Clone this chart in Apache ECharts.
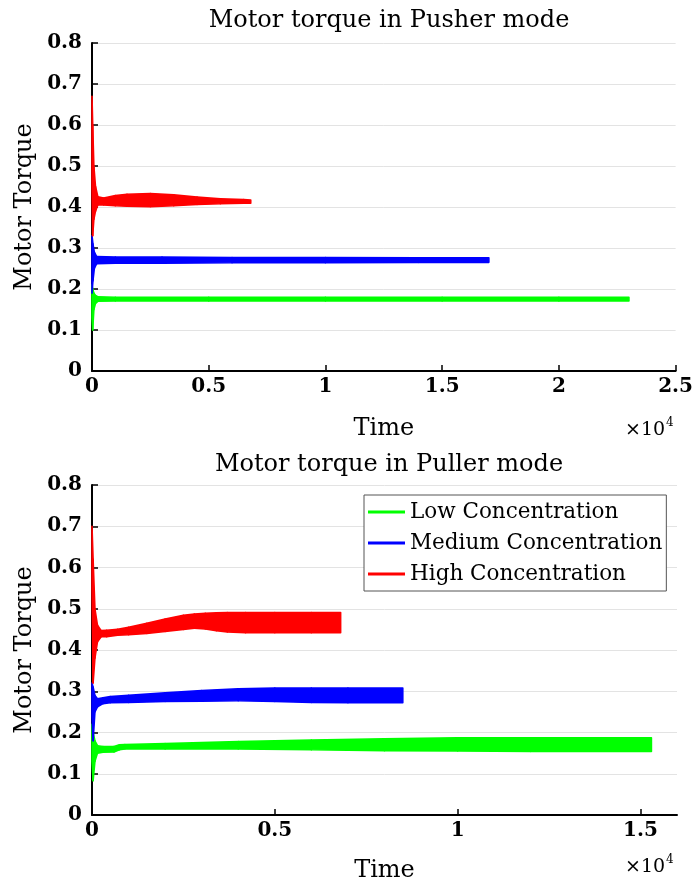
<!DOCTYPE html>
<html lang="en">
<head>
    <meta charset="UTF-8">
    <title>Motor torque</title>
    <script src="https://cdn.jsdelivr.net/npm/echarts@6/dist/echarts.min.js"></script>
    <style>
        html, body { margin: 0; padding: 0; background: #fff; }
        #chart { width: 696px; height: 884px; }
    </style>
</head>
<body>
<div id="chart"></div>
<script type="text/javascript">
    // ---- data (envelope of the oscillating torque: lower / upper) ----
    var seriesNames = ['Low Concentration', 'Medium Concentration', 'High Concentration'];
    var seriesColors = ['#00ff00', '#0000ff', '#ff0000'];

    // Pusher mode
    var pushLowT  = [0, 30, 80, 150, 250, 1000, 5000, 10000, 15000, 20000, 23000];
    var pushLowLo = [0.13, 0.10, 0.15, 0.165, 0.170, 0.171, 0.171, 0.171, 0.171, 0.171, 0.171];
    var pushLowHi = [0.21, 0.20, 0.19, 0.184, 0.181, 0.180, 0.180, 0.180, 0.180, 0.180, 0.180];

    var pushMedT  = [0, 40, 100, 200, 1000, 3000, 6000, 10000, 14000, 17000];
    var pushMedLo = [0.19, 0.22, 0.25, 0.262, 0.263, 0.263, 0.264, 0.264, 0.265, 0.265];
    var pushMedHi = [0.33, 0.31, 0.29, 0.279, 0.278, 0.278, 0.277, 0.277, 0.276, 0.276];

    var pushHighT  = [0, 30, 80, 150, 250, 500, 1000, 1500, 2500, 3500, 4500, 5500, 6500, 6800];
    var pushHighLo = [0.45, 0.33, 0.37, 0.39, 0.405, 0.405, 0.403, 0.402, 0.401, 0.403, 0.406, 0.408, 0.409, 0.409];
    var pushHighHi = [0.67, 0.60, 0.50, 0.45, 0.425, 0.422, 0.428, 0.431, 0.433, 0.430, 0.424, 0.420, 0.418, 0.417];

    // Puller mode
    var pullLowT  = [0, 30, 80, 150, 300, 600, 750, 900, 2000, 4000, 6000, 8000, 10000, 12000, 15300];
    var pullLowLo = [0.13, 0.083, 0.13, 0.150, 0.152, 0.153, 0.158, 0.160, 0.160, 0.160, 0.158, 0.156, 0.155, 0.154, 0.154];
    var pullLowHi = [0.22, 0.20, 0.18, 0.168, 0.166, 0.166, 0.170, 0.171, 0.173, 0.178, 0.182, 0.185, 0.187, 0.187, 0.187];

    var pullMedT  = [0, 30, 80, 150, 300, 500, 1000, 2000, 3000, 4000, 5000, 6000, 7000, 8500];
    var pullMedLo = [0.24, 0.18, 0.25, 0.262, 0.270, 0.272, 0.273, 0.275, 0.276, 0.277, 0.275, 0.273, 0.272, 0.272];
    var pullMedHi = [0.32, 0.31, 0.29, 0.282, 0.284, 0.287, 0.290, 0.296, 0.302, 0.306, 0.308, 0.308, 0.308, 0.308];

    var pullHighT  = [0, 30, 80, 150, 250, 400, 700, 1000, 1500, 2000, 2500, 2800, 3100, 3400, 3700, 4200, 5000, 6000, 6800];
    var pullHighLo = [0.55, 0.32, 0.38, 0.42, 0.432, 0.432, 0.436, 0.437, 0.440, 0.445, 0.450, 0.453, 0.451, 0.447, 0.444, 0.442, 0.442, 0.442, 0.442];
    var pullHighHi = [0.70, 0.62, 0.50, 0.46, 0.447, 0.448, 0.450, 0.455, 0.465, 0.475, 0.484, 0.487, 0.489, 0.490, 0.491, 0.491, 0.491, 0.491, 0.491];

    // build trapezoid segments between consecutive envelope points
    function bandSegments(t, lo, hi) {
        var seg = [];
        for (var i = 0; i < t.length - 1; i++) {
            seg.push([t[i], lo[i], hi[i], t[i + 1], lo[i + 1], hi[i + 1]]);
        }
        return seg;
    }

    function bandSeries(name, color, gridIdx, t, lo, hi) {
        return {
            name: name,
            type: 'custom',
            xAxisIndex: gridIdx,
            yAxisIndex: gridIdx,
            itemStyle: { color: color },
            encode: { x: [0, 3], y: [1, 2, 4, 5] },
            data: bandSegments(t, lo, hi),
            renderItem: function (params, api) {
                var p = [
                    api.coord([api.value(0), api.value(1)]),
                    api.coord([api.value(3), api.value(4)]),
                    api.coord([api.value(3), api.value(5)]),
                    api.coord([api.value(0), api.value(2)])
                ];
                return {
                    type: 'polygon',
                    shape: { points: p },
                    style: { fill: color, stroke: color, lineWidth: 1.6, lineJoin: 'round' }
                };
            },
            silent: true
        };
    }

    var serif = 'DejaVu Serif';

    function xAxisFor(gridIdx, maxVal, tickVals, gap) {
        return {
            type: 'value',
            gridIndex: gridIdx,
            min: 0,
            max: maxVal,
            interval: 5000,
            name: 'Time',
            nameLocation: 'middle',
            nameGap: gap,
            nameTextStyle: { fontFamily: serif, fontSize: 24, color: '#000' },
            axisLine: { lineStyle: { color: '#000', width: 2 } },
            axisTick: { inside: true, length: 6, customValues: tickVals, lineStyle: { color: '#000', width: 1.5 } },
            axisLabel: {
                customValues: tickVals,
                margin: 6,
                fontFamily: serif, fontWeight: 'bold', fontSize: 20, color: '#000',
                formatter: function (v) { return String(v / 10000); }
            },
            splitLine: { show: false }
        };
    }

    function yAxisFor(gridIdx) {
        return {
            type: 'value',
            gridIndex: gridIdx,
            min: 0,
            max: 0.8,
            interval: 0.1,
            name: 'Motor Torque',
            nameLocation: 'middle',
            nameGap: 48,
            nameTextStyle: { fontFamily: serif, fontSize: 24, color: '#000' },
            axisLine: { lineStyle: { color: '#000', width: 2 } },
            axisTick: { inside: true, length: 6, lineStyle: { color: '#000', width: 1.5 } },
            axisLabel: {
                margin: 10,
                fontFamily: serif, fontWeight: 'bold', fontSize: 20, color: '#000',
                formatter: function (v) { return String(Math.round(v * 10) / 10); }
            },
            splitLine: { show: true, lineStyle: { color: '#e3e3e3', width: 1 } }
        };
    }

    var chart = echarts.init(document.getElementById('chart'), null, { renderer: 'canvas' });
    var option = {
        backgroundColor: '#fff',
        animation: false,
        title: [
            { text: 'Motor torque in Pusher mode', left: 384, top: 4, textAlign: 'center',
              textStyle: { fontFamily: serif, fontSize: 24, fontWeight: 'normal', color: '#000' } },
            { text: 'Motor torque in Puller mode', left: 384, top: 448, textAlign: 'center',
              textStyle: { fontFamily: serif, fontSize: 24, fontWeight: 'normal', color: '#000' } }
        ],
        legend: {
            data: seriesNames,
            orient: 'vertical',
            left: 364,
            top: 495,
            padding: [4, 4, 4, 4],
            itemGap: 5,
            itemWidth: 37,
            itemHeight: 3,
            icon: 'rect',
            backgroundColor: '#fff',
            borderColor: '#555',
            borderWidth: 1,
            borderRadius: 0,
            selectedMode: false,
            textStyle: { fontFamily: serif, fontSize: 21.5, lineHeight: 26, color: '#000' }
        },
        grid: [
            { left: 92, right: 19, top: 43, bottom: 513 },
            { left: 92, right: 19, top: 485, bottom: 68 }
        ],
        xAxis: [
            xAxisFor(0, 25000, [0, 5000, 10000, 15000, 20000, 25000], 46),
            xAxisFor(1, 16000, [0, 5000, 10000, 15000], 44)
        ],
        yAxis: [yAxisFor(0), yAxisFor(1)],
        graphic: [
            { type: 'text', left: 625, top: 421, style: { text: '×10', font: '19px "DejaVu Serif"', fill: '#000' } },
            { type: 'text', left: 666, top: 417, style: { text: '4', font: '12px "DejaVu Serif"', fill: '#000' } },
            { type: 'text', left: 625, top: 858, style: { text: '×10', font: '19px "DejaVu Serif"', fill: '#000' } },
            { type: 'text', left: 666, top: 854, style: { text: '4', font: '12px "DejaVu Serif"', fill: '#000' } }
        ],
        series: [
            bandSeries(seriesNames[0], seriesColors[0], 0, pushLowT, pushLowLo, pushLowHi),
            bandSeries(seriesNames[1], seriesColors[1], 0, pushMedT, pushMedLo, pushMedHi),
            bandSeries(seriesNames[2], seriesColors[2], 0, pushHighT, pushHighLo, pushHighHi),
            bandSeries(seriesNames[0], seriesColors[0], 1, pullLowT, pullLowLo, pullLowHi),
            bandSeries(seriesNames[1], seriesColors[1], 1, pullMedT, pullMedLo, pullMedHi),
            bandSeries(seriesNames[2], seriesColors[2], 1, pullHighT, pullHighLo, pullHighHi)
        ]
    };
    chart.setOption(option);
</script>
</body>
</html>
